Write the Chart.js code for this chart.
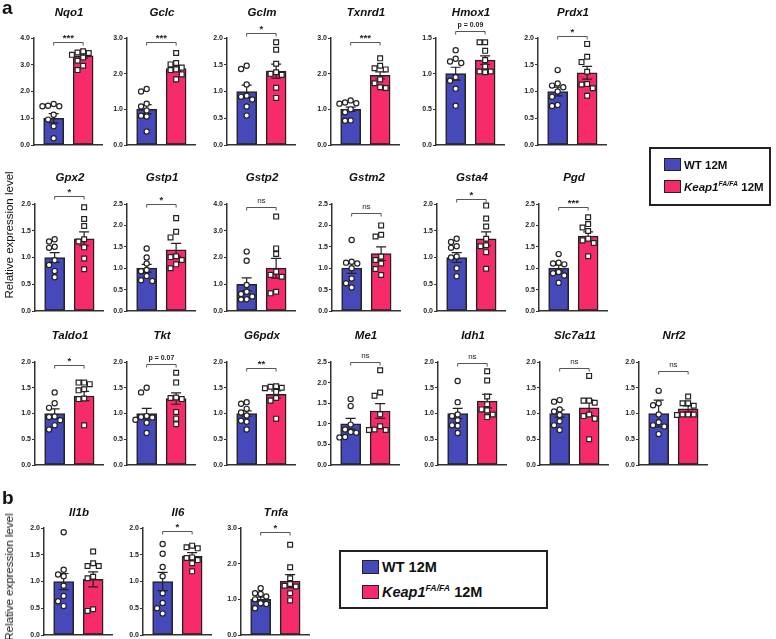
<!DOCTYPE html>
<html>
<head>
<meta charset="utf-8">
<script src="https://cdn.jsdelivr.net/npm/chart.js@4.4.1/dist/chart.umd.min.js"></script>
<style>
  body { margin: 0; background: #fff; }
  #fig { position: relative; width: 776px; height: 639px; overflow: hidden; font-family: 'Liberation Sans', Arial, sans-serif; color: #111; }
  #fig canvas { position: absolute; }
  .gene { position: absolute; font: italic bold 11.5px 'Liberation Sans', Arial, sans-serif; transform: translate(-50%, -50%); white-space: nowrap; }
  .panel { position: absolute; font: bold 19px 'Liberation Sans', Arial, sans-serif; }
  .ylab { position: absolute; font: 11.5px 'Liberation Sans', Arial, sans-serif; white-space: nowrap; transform: translate(-50%, -50%) rotate(-90deg); }
  .legend { position: absolute; border: 2px solid #222; box-sizing: border-box; font-weight: bold; font-family: 'Liberation Sans', Arial, sans-serif; }
  .legend div { position: absolute; white-space: nowrap; }
  .legend span.sw { display: inline-block; border: 1.5px solid #222; box-sizing: border-box; vertical-align: -2px; margin-right: 3px; }
  .legend sup { font-size: 0.6em; }
</style>
</head>
<body>
<div id="fig"></div>
<script>
const categories = ['WT 12M', 'Keap1 FA/FA 12M'];
const genes = ['Nqo1', 'Gclc', 'Gclm', 'Txnrd1', 'Hmox1', 'Prdx1',
  'Gpx2', 'Gstp1', 'Gstp2', 'Gstm2', 'Gsta4', 'Pgd',
  'Taldo1', 'Tkt', 'G6pdx', 'Me1', 'Idh1', 'Slc7a11', 'Nrf2',
  'Il1b', 'Il6', 'Tnfa'];
const yMax = [4, 3, 2, 3, 1.5, 2, 2, 2.5, 4, 2.5, 2, 2.5, 2, 2, 2, 2.5, 2, 2, 2, 2, 2, 3];
const yStep = [1, 1, 0.5, 1, 0.5, 0.5, 0.5, 0.5, 1, 0.5, 0.5, 0.5, 0.5, 0.5, 0.5, 0.5, 0.5, 0.5, 0.5, 0.5, 0.5, 1];
const wtMean = [1, 1, 1, 1, 1, 1, 1, 1, 1, 1, 1, 1, 1, 1, 1, 1, 1, 1, 1, 1, 1, 1];
const koMean = [3.33, 2.14, 1.38, 1.95, 1.19, 1.35, 1.35, 1.43, 1.6, 1.34, 1.35, 1.75,
  1.34, 1.29, 1.37, 1.31, 1.24, 1.11, 1.09, 1.04, 1.47, 1.51];
const wtSem = [0.17, 0.13, 0.12, 0.06, 0.09, 0.08, 0.09, 0.09, 0.24, 0.12, 0.09, 0.07,
  0.09, 0.1, 0.05, 0.13, 0.1, 0.07, 0.26, 0.15, 0.17, 0.06];
const koSem = [0.08, 0.07, 0.13, 0.1, 0.06, 0.12, 0.13, 0.15, 0.37, 0.16, 0.13, 0.1,
  0.09, 0.11, 0.07, 0.18, 0.13, 0.15, 0.06, 0.14, 0.07, 0.18];
const wtPoints = [
  [1.53, 1.47, 1.45, 1.45, 1.13, 0.95, 0.7, 0.25],
  [1.57, 1.5, 1.16, 1.08, 0.97, 0.82, 0.8, 0.38],
  [1.48, 1.42, 1.13, 0.92, 0.9, 0.85, 0.72, 0.55],
  [1.25, 1.19, 1.17, 1.16, 1.0, 0.92, 0.69, 0.68],
  [1.33, 1.21, 1.17, 1.15, 0.95, 0.9, 0.79, 0.55],
  [1.4, 1.15, 1.11, 1.08, 1.0, 0.9, 0.75, 0.73],
  [1.34, 1.3, 1.2, 1.18, 0.95, 0.86, 0.75, 0.63],
  [1.46, 1.25, 1.11, 0.96, 0.93, 0.82, 0.72, 0.7],
  [2.22, 1.88, 0.97, 0.72, 0.64, 0.54, 0.44, 0.43],
  [1.66, 1.15, 1.13, 1.11, 1.0, 0.76, 0.65, 0.55],
  [1.35, 1.29, 1.21, 1.18, 1.02, 1.0, 0.8, 0.65],
  [1.33, 1.13, 1.11, 1.09, 0.91, 0.88, 0.83, 0.66],
  [1.41, 1.2, 1.11, 0.94, 0.93, 0.87, 0.77, 0.69],
  [1.5, 1.41, 0.95, 0.93, 0.92, 0.88, 0.82, 0.62],
  [1.22, 1.19, 1.09, 1.02, 0.96, 0.86, 0.84, 0.69],
  [1.6, 1.43, 0.98, 0.86, 0.8, 0.78, 0.68, 0.67],
  [1.63, 1.22, 0.98, 0.95, 0.87, 0.77, 0.76, 0.62],
  [1.26, 1.23, 1.08, 1.04, 0.97, 0.85, 0.77, 0.68],
  [1.44, 1.2, 1.16, 0.98, 0.83, 0.77, 0.75, 0.6],
  [1.92, 1.22, 1.13, 1.1, 0.92, 0.73, 0.63, 0.54],
  [1.7, 1.52, 1.27, 1.1, 0.78, 0.6, 0.5, 0.4],
  [1.31, 1.17, 1.15, 1.08, 1.0, 0.89, 0.87, 0.75]
];
const koPoints = [
  [3.5, 3.46, 3.44, 3.37, 3.27, 3.15, 2.96, 2.8],
  [2.58, 2.3, 2.26, 2.17, 2.12, 2.1, 1.98, 1.84],
  [1.92, 1.78, 1.52, 1.36, 1.33, 1.31, 1.07, 0.88],
  [2.43, 2.22, 2.15, 2.12, 1.84, 1.73, 1.62, 1.6],
  [1.44, 1.44, 1.32, 1.19, 1.1, 1.03, 1.03, 1.02],
  [1.89, 1.65, 1.55, 1.37, 1.14, 1.13, 1.06, 0.92],
  [1.94, 1.72, 1.59, 1.34, 1.3, 1.19, 0.98, 0.78],
  [2.17, 1.85, 1.72, 1.28, 1.26, 1.19, 1.09, 1.0],
  [3.53, 2.34, 2.13, 1.47, 1.35, 1.28, 0.72, 0.66],
  [2.0, 1.78, 1.74, 1.27, 1.19, 1.11, 0.98, 0.84],
  [1.97, 1.73, 1.58, 1.35, 1.23, 1.21, 1.1, 0.79],
  [2.19, 2.03, 1.95, 1.87, 1.69, 1.65, 1.59, 1.28],
  [1.6, 1.6, 1.57, 1.47, 1.45, 1.29, 1.28, 0.77],
  [1.79, 1.6, 1.31, 1.3, 1.28, 1.03, 0.9, 0.79],
  [1.53, 1.52, 1.5, 1.49, 1.42, 1.3, 1.25, 0.9],
  [2.3, 1.76, 1.68, 1.23, 0.94, 0.86, 0.85, 0.85],
  [1.82, 1.64, 1.33, 1.18, 1.08, 1.06, 0.98, 0.93],
  [1.73, 1.25, 1.25, 1.21, 0.98, 0.95, 0.9, 0.5],
  [1.33, 1.2, 1.2, 1.15, 0.98, 0.98, 0.98, 0.97],
  [1.56, 1.34, 1.29, 1.29, 1.09, 1.06, 0.48, 0.45],
  [1.67, 1.64, 1.62, 1.45, 1.44, 1.4, 1.34, 1.19],
  [2.53, 1.9, 1.59, 1.43, 1.38, 1.36, 1.17, 0.97]
];
const sigLabel = ['***', '***', '*', '***', 'p = 0.09', '*', '*', '*', 'ns', 'ns', '*', '***',
  '*', 'p = 0.07', '**', 'ns', 'ns', 'ns', 'ns', '', '*', '*'];
const bracketAt = [3.86, 2.9, 2.09, 2.9, 1.6, 2.03, 2.15, 2.49, 3.9, 2.3, 2.1, 2.42,
  1.94, 1.97, 1.88, 2.5, 1.98, 1.88, 1.82, null, 1.94, 2.9];

const BLUE = '#4549B9';
const RED = '#F72B6A';
const INK = '#222';

// page layout: each row gives the plot top/bottom and the left edge of each WT bar
const rows = [
  { top: 38, bottom: 145, titleY: 12, lefts: [44, 137, 237, 341, 446, 548] },
  { top: 204, bottom: 311, titleY: 177, lefts: [45, 137, 237, 342, 447, 549] },
  { top: 362, bottom: 465, titleY: 335, lefts: [45, 137, 237, 341, 448, 550, 649] },
  { top: 528, bottom: 635, titleY: 512, lefts: [54, 153, 251] }
];

const fig = document.getElementById('fig');

function addDiv(cls, html, css, parent) {
  const d = document.createElement('div');
  d.className = cls;
  d.innerHTML = html;
  Object.assign(d.style, css);
  (parent || fig).appendChild(d);
  return d;
}

// simple beeswarm so overlapping points spread sideways
function swarm(vals, max, plotH) {
  const placed = [];
  const out = new Array(vals.length).fill(0);
  const order = vals.map((v, i) => i).sort((a, b) => vals[b] - vals[a]);
  order.forEach(i => {
    const py = vals[i] / max * plotH;
    for (let k = 0; k < 14; k++) {
      const off = (k % 2 ? -1 : 1) * Math.ceil(k / 2) * 0.19;
      if (placed.every(p => Math.hypot((p.x - off) * 30, p.py - py) >= 5.6)) {
        placed.push({ x: off, py });
        out[i] = off;
        break;
      }
    }
  });
  return out;
}

function overlay(i) {
  return {
    id: 'overlay' + i,
    afterDatasetDraw(chart, args) {
      if (args.meta.type !== 'bar') return;
      const { ctx, scales: { y } } = chart;
      const sems = [wtSem[i], koSem[i]];
      ctx.save();
      ctx.strokeStyle = INK;
      ctx.lineWidth = 1.2;
      args.meta.data.forEach((bar, j) => {
        const v = chart.data.datasets[args.index].data[j].y;
        const t = y.getPixelForValue(v + sems[j]);
        const b = y.getPixelForValue(v - sems[j]);
        ctx.beginPath();
        ctx.moveTo(bar.x, t); ctx.lineTo(bar.x, b);
        ctx.moveTo(bar.x - 5, t); ctx.lineTo(bar.x + 5, t);
        ctx.moveTo(bar.x - 5, b); ctx.lineTo(bar.x + 5, b);
        ctx.stroke();
      });
      ctx.restore();
    },
    afterDraw(chart) {
      if (bracketAt[i] == null) return;
      const { ctx, scales: { x, y } } = chart;
      const yy = Math.round(y.getPixelForValue(bracketAt[i])) + 0.5;
      const x0 = x.getPixelForValue(0), x1 = x.getPixelForValue(1);
      ctx.save();
      ctx.strokeStyle = '#555';
      ctx.lineWidth = 1;
      ctx.beginPath();
      ctx.moveTo(x0, yy + 3); ctx.lineTo(x0, yy); ctx.lineTo(x1, yy); ctx.lineTo(x1, yy + 3);
      ctx.stroke();
      const lab = sigLabel[i];
      ctx.fillStyle = INK;
      ctx.textAlign = 'center';
      if (lab.startsWith('p')) {
        ctx.font = "bold 7px 'Liberation Sans', Arial";
        ctx.textBaseline = 'bottom';
        ctx.fillText(lab, (x0 + x1) / 2, yy - 3);
      } else if (lab === 'ns') {
        ctx.font = "8px 'Liberation Sans', Arial";
        ctx.textBaseline = 'bottom';
        ctx.fillText(lab, (x0 + x1) / 2, yy - 3);
      } else {
        ctx.font = "bold 9.5px 'Liberation Sans', Arial";
        ctx.textBaseline = 'middle';
        ctx.fillText(lab, (x0 + x1) / 2, yy - 4);
      }
      ctx.restore();
    }
  };
}

let gi = 0;
rows.forEach(row => {
  row.lefts.forEach(bl => {
    const i = gi++;
    const plotH = row.bottom - row.top;
    const cv = document.createElement('canvas');
    const W = 100, H = plotH + 40;
    cv.width = W; cv.height = H;
    Object.assign(cv.style, { left: (bl - 36) + 'px', top: (row.top - 32) + 'px', width: W + 'px', height: H + 'px' });
    fig.appendChild(cv);
    addDiv('gene', genes[i], { left: (bl + 25) + 'px', top: row.titleY + 'px' });

    const jw = swarm(wtPoints[i], yMax[i], plotH);
    const jk = swarm(koPoints[i], yMax[i], plotH);

    new Chart(cv.getContext('2d'), {
      type: 'bar',
      data: {
        datasets: [
          {
            type: 'scatter', label: categories[0], order: 1, clip: false,
            data: wtPoints[i].map((v, k) => ({ x: jw[k], y: v })),
            pointStyle: 'circle', pointRadius: 2.6, pointBorderWidth: 1.2,
            pointBackgroundColor: '#fff', pointBorderColor: INK
          },
          {
            type: 'scatter', label: categories[1], order: 1, clip: false,
            data: koPoints[i].map((v, k) => ({ x: 1 + jk[k], y: v })),
            pointStyle: 'rect', pointRadius: 3.4, pointBorderWidth: 1.2,
            pointBackgroundColor: '#fff', pointBorderColor: INK
          },
          {
            type: 'bar', label: 'mean', order: 3,
            data: [{ x: 0, y: wtMean[i] }, { x: 1, y: koMean[i] }],
            backgroundColor: [BLUE, RED], borderColor: INK, borderWidth: 1.5,
            borderSkipped: false, barThickness: 20
          }
        ]
      },
      options: {
        responsive: false,
        animation: false,
        events: [],
        layout: { padding: { top: 32, bottom: 8, left: 0, right: 4 } },
        plugins: { legend: { display: false }, tooltip: { enabled: false } },
        scales: {
          x: {
            type: 'linear', min: -0.667, max: 1.667, offset: false,
            ticks: { display: false },
            grid: { display: true, drawOnChartArea: false, drawTicks: false, offset: false },
            border: { color: '#333', width: 1.5 },
            afterFit: s => { s.height = 0; }
          },
          y: {
            min: 0, max: yMax[i],
            ticks: {
              stepSize: yStep[i], padding: 1, color: INK,
              font: { family: "'Liberation Sans', Arial", size: 7, weight: 'bold' },
              callback: v => v.toFixed(1)
            },
            grid: { display: true, drawOnChartArea: false, tickLength: 3, color: '#333', lineWidth: 1 },
            border: { color: '#333', width: 1.5 },
            afterFit: s => { s.width = 26; }
          }
        }
      },
      plugins: [overlay(i)]
    });
  });
});

addDiv('panel', 'a', { left: '2px', top: '-3px' });
addDiv('panel', 'b', { left: '2px', top: '487px' });
addDiv('ylab', 'Relative expression level', { left: '9px', top: '235px' });
addDiv('ylab', 'Relative expression level', { left: '9px', top: '577px' });

function legend(box, font, sw, tops, textLeft) {
  const l = addDiv('legend', '', box);
  l.style.fontSize = font + 'px';
  const swatch = c => `<span class="sw" style="background:${c};width:${sw[0]}px;height:${sw[1]}px"></span>`;
  addDiv('', swatch(BLUE) + 'WT 12M', { left: textLeft + 'px', top: tops[0] + 'px' }, l);
  addDiv('', swatch(RED) + '<i>Keap1<sup>FA/FA</sup></i> 12M', { left: textLeft + 'px', top: tops[1] + 'px' }, l);
}
legend({ left: '649px', top: '147px', width: '122px', height: '59px' }, 11.5, [17, 13], [9, 31], 13);
legend({ left: '339px', top: '550px', width: '209px', height: '59px' }, 14.5, [17, 14], [7, 31], 21);
</script>
</body>
</html>
